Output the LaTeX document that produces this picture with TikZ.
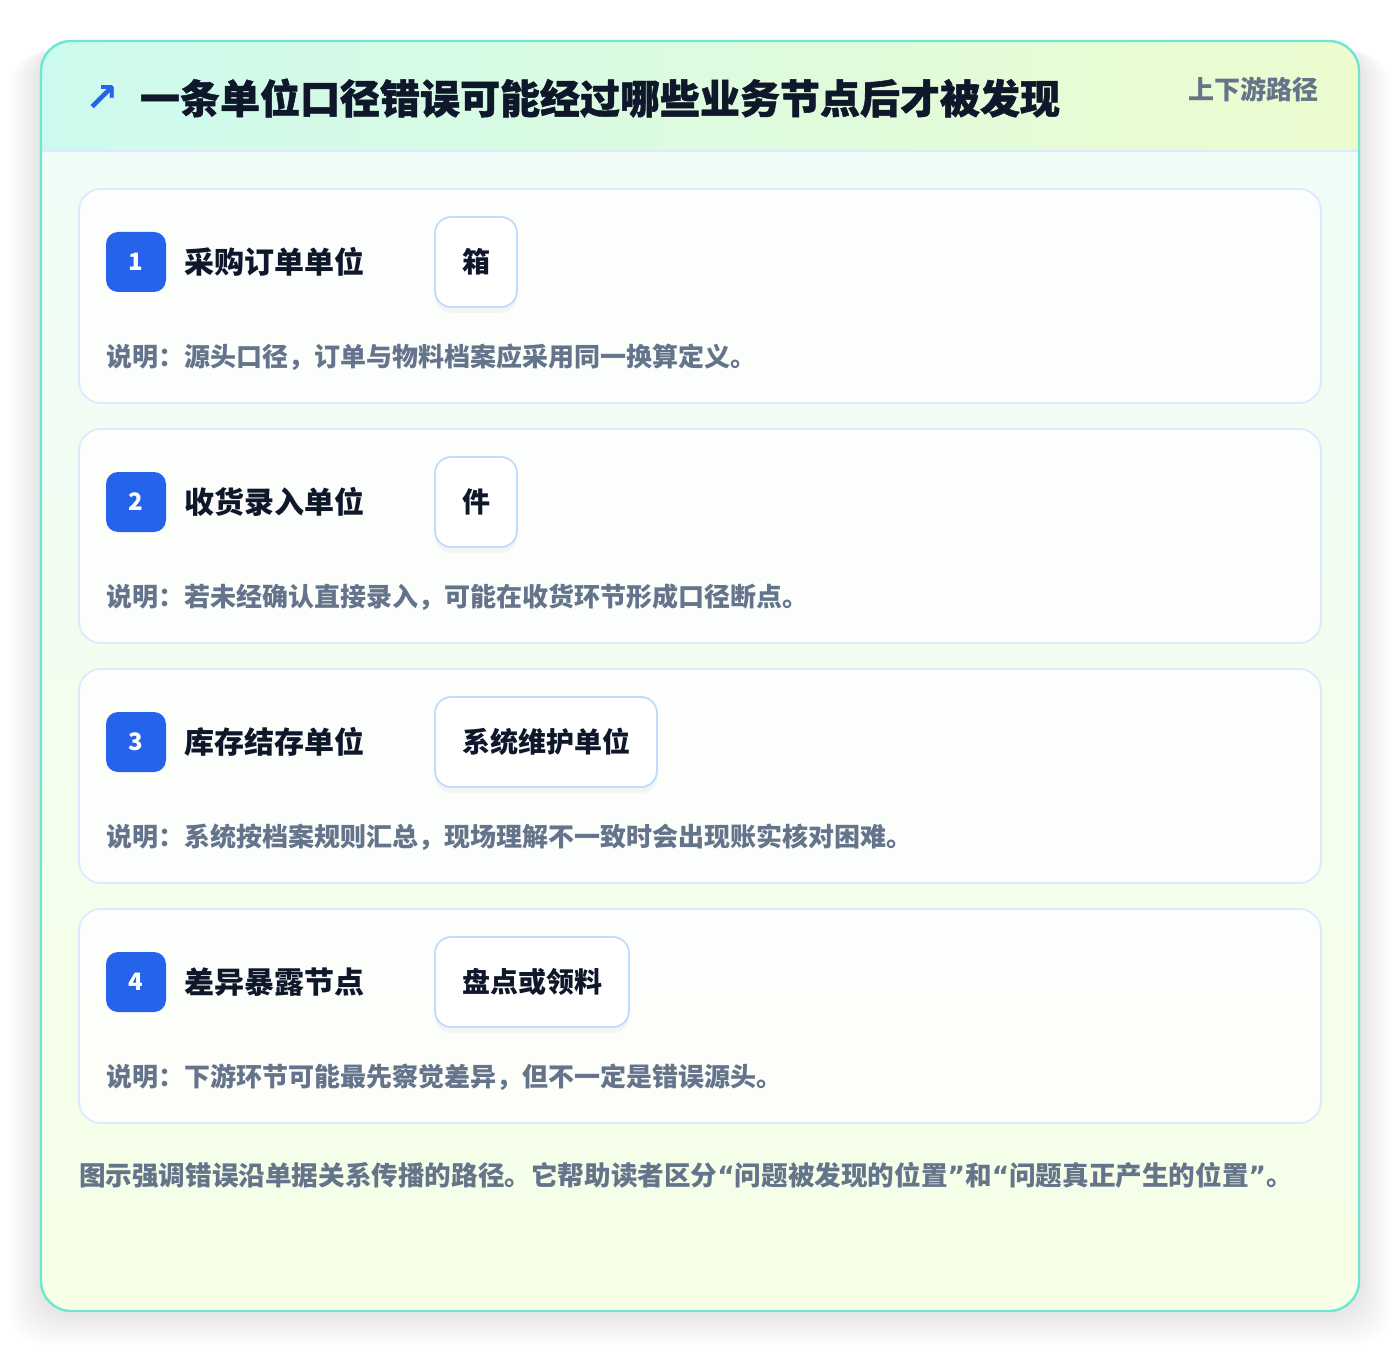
\documentclass[tikz,border=0pt]{standalone}
\usepackage{fontspec}
\setmainfont{Noto Sans CJK SC}
\newfontfamily\heavyfont{Noto Sans CJK SC}[BoldFeatures={FakeBold=1.2}]
\newfontfamily\symfont{DejaVu Sans}
\usetikzlibrary{positioning, shadows}

\definecolor{ink}{HTML}{0F172A}
\definecolor{muted}{HTML}{64748B}
\definecolor{accent}{HTML}{2563EB}
\definecolor{rimteal}{HTML}{6EE7D2}
\definecolor{cardline}{HTML}{DBEAFE}
\definecolor{unitline}{HTML}{BFDBFE}
\definecolor{headleft}{HTML}{CDFAEE}
\definecolor{headright}{HTML}{ECFCCF}
\definecolor{bodytop}{HTML}{EFFDF8}
\definecolor{bodybottom}{HTML}{F6FEE6}
\newcommand{\q}[1]{{\symfont #1}}

\begin{document}
\begin{tikzpicture}[
        x=0.5pt,
        y=-0.5pt,
        every node/.style={inner sep=0pt, outer sep=0pt},
        panel/.style={rounded corners=15pt},
        haze/.style={rounded corners=18pt, black, fill opacity=0.011},
        stepcard/.style={draw=cardline, line width=0.9pt, fill=white, fill opacity=0.8,
                minimum width=621pt, minimum height=107pt, rounded corners=11pt},
        numbadge/.style={fill=accent, rounded corners=6pt, minimum size=30pt,
                text=white, font=\fontsize{12pt}{14pt}\selectfont\bfseries},
        steplabel/.style={anchor=west, text=ink, font=\fontsize{15pt}{18pt}\selectfont\bfseries},
        unitbox/.style={anchor=west, draw=unitline, line width=0.9pt, fill=white,
                rounded corners=8pt, inner xsep=13.5pt, minimum height=45pt,
                text=ink, font=\fontsize{14pt}{17pt}\selectfont\bfseries,
                drop shadow={shadow xshift=0pt, shadow yshift=-3pt, fill=black, opacity=0.035}},
        stepnote/.style={anchor=west, text=muted, font=\fontsize{13pt}{15pt}\selectfont\bfseries}
    ]
    \useasboundingbox (0,0) rectangle (1400,1352);
    \fill[white] (0,0) rectangle (1400,1352);

    % soft shadow under the panel
    \fill[haze] (37,45) rectangle (1363,1317);
    \fill[haze] (33,46) rectangle (1367,1321);
    \fill[haze] (29,47) rectangle (1371,1325);
    \fill[haze] (25,48) rectangle (1375,1329);
    \fill[haze] (21,49) rectangle (1379,1333);
    \fill[haze] (17,50) rectangle (1383,1337);
    \fill[haze] (13,51) rectangle (1387,1341);
    \fill[haze] (9,52) rectangle (1391,1345);

    % outer panel
    \fill[panel, white] (41,41) rectangle (1359,1311);
    \shade[panel, top color=bodytop, bottom color=bodybottom] (41,41) rectangle (1359,1311);
    \begin{scope}
        \clip[panel] (41,41) rectangle (1359,1311);
        \shade[left color=headleft, right color=headright] (41,41) rectangle (1359,151);
        \draw[cardline, line width=1pt] (41,151) -- (1359,151);
    \end{scope}
    \draw[panel, rimteal, line width=1.2pt] (41,41) rectangle (1359,1311);

    % header
    \node[text=accent, font=\symfont\bfseries\fontsize{20pt}{22pt}\selectfont] (icon) at (102,99) {↗};
    \node[anchor=west, text=ink, font=\heavyfont\fontsize{20pt}{24pt}\selectfont\bfseries] (title) at (140,98)
        {一条单位口径错误可能经过哪些业务节点后才被发现};
    \node[anchor=east, text=muted, font=\fontsize{13pt}{15pt}\selectfont\bfseries] (tag) at (1318,89)
        {上下游路径};

    % step 1
    \node[stepcard] (card1) at (700,296) {};
    \node[numbadge] (n1) at (136,262) {1};
    \node[steplabel, right=9pt of n1] (l1) {采购订单单位};
    \node[unitbox] (u1) at (435,262) {箱};
    \node[stepnote] (d1) at (106,357) {说明：源头口径，订单与物料档案应采用同一换算定义。};

    % step 2
    \node[stepcard] (card2) at (700,536) {};
    \node[numbadge] (n2) at (136,502) {2};
    \node[steplabel, right=9pt of n2] (l2) {收货录入单位};
    \node[unitbox] (u2) at (435,502) {件};
    \node[stepnote] (d2) at (106,597) {说明：若未经确认直接录入，可能在收货环节形成口径断点。};

    % step 3
    \node[stepcard] (card3) at (700,776) {};
    \node[numbadge] (n3) at (136,742) {3};
    \node[steplabel, right=9pt of n3] (l3) {库存结存单位};
    \node[unitbox] (u3) at (435,742) {系统维护单位};
    \node[stepnote] (d3) at (106,837) {说明：系统按档案规则汇总，现场理解不一致时会出现账实核对困难。};

    % step 4
    \node[stepcard] (card4) at (700,1016) {};
    \node[numbadge] (n4) at (136,982) {4};
    \node[steplabel, right=9pt of n4] (l4) {差异暴露节点};
    \node[unitbox] (u4) at (435,982) {盘点或领料};
    \node[stepnote] (d4) at (106,1077) {说明：下游环节可能最先察觉差异，但不一定是错误源头。};

    % footer
    \node[stepnote, font=\fontsize{13.3pt}{15pt}\selectfont\bfseries] (foot) at (79,1175)
        {图示强调错误沿单据关系传播的路径。它帮助读者区分\q{“}问题被发现的位置\q{”}和\q{“}问题真正产生的位置\q{”}。};
\end{tikzpicture}
\end{document}
